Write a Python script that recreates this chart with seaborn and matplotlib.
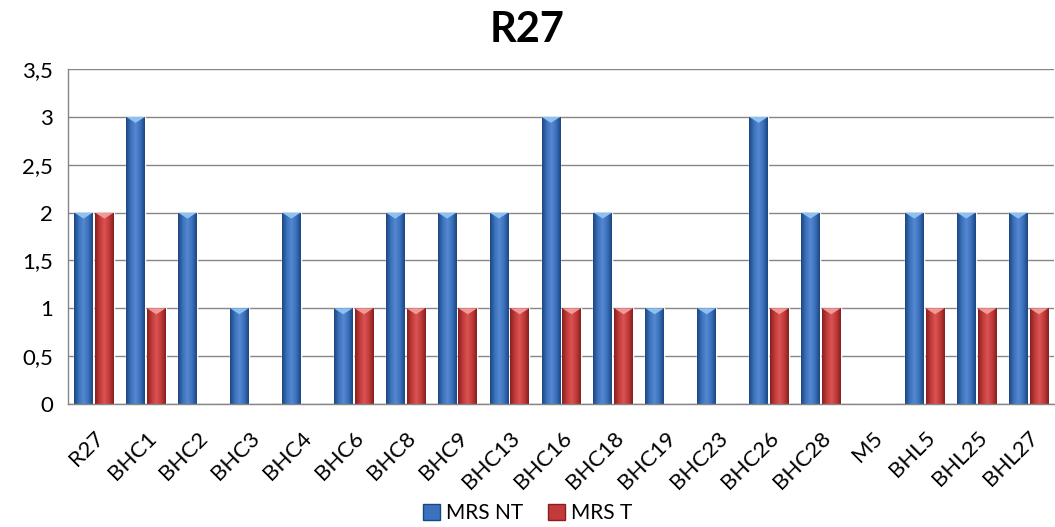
import numpy as np
import pandas as pd
import seaborn as sns
import matplotlib
matplotlib.use("Agg")
import matplotlib.pyplot as plt
import matplotlib.transforms as mtransforms
from matplotlib.colors import LinearSegmentedColormap
from matplotlib.patches import Polygon, Patch

categories = ["R27", "BHC1", "BHC2", "BHC3", "BHC4", "BHC6", "BHC8", "BHC9", "BHC13",
              "BHC16", "BHC18", "BHC19", "BHC23", "BHC26", "BHC28", "M5", "BHL5",
              "BHL25", "BHL27"]
mrs_nt = [2, 3, 2, 1, 2, 1, 2, 2, 2, 3, 2, 1, 1, 3, 2, 0, 2, 2, 2]
mrs_t = [2, 1, 0, 0, 0, 1, 1, 1, 1, 1, 1, 0, 0, 1, 1, 0, 1, 1, 1]
series_names = ["MRS NT", "MRS T"]
y_ticks = [0, 0.5, 1, 1.5, 2, 2.5, 3, 3.5]
y_tick_labels = ["0", "0,5", "1", "1,5", "2", "2,5", "3", "3,5"]

df = pd.DataFrame({
    "cat": categories * 2,
    "value": mrs_nt + mrs_t,
    "series": [series_names[0]] * len(categories) + [series_names[1]] * len(categories),
})

sns.set_style("white")
plt.rcParams["font.family"] = ["Lato", "DejaVu Sans"]
plt.rcParams["text.color"] = "black"
plt.rcParams["xtick.color"] = "black"
plt.rcParams["ytick.color"] = "black"

base = {"MRS NT": "#3b6fb6", "MRS T": "#c0393a"}
shades = {
    "MRS NT": ["#1d4680", "#3a72bd", "#5688cf", "#3a72bd", "#1d4680"],
    "MRS T": ["#862020", "#c23a3a", "#d85452", "#c23a3a", "#862020"],
}
tops = {"MRS NT": "#8ec0f0", "MRS T": "#f09a98"}

fig = plt.figure(figsize=(10.55, 5.27), dpi=100)
ax = fig.add_axes([0.0645, 0.2334, 0.935, 0.6356])

sns.barplot(data=df, x="cat", y="value", hue="series", palette=base,
            width=0.8, gap=0.1, ax=ax, legend=False, saturation=1)

ax.set_ylim(0, 3.5)
ax.set_xlim(-0.5, len(categories) - 0.5)
ax.set_yticks(y_ticks)
ax.set_yticklabels(y_tick_labels, fontsize=16)
ax.set_xlabel("")
ax.set_ylabel("")
ax.set_xticks(range(len(categories)))
ax.set_xticklabels(categories, rotation=45, ha="right", rotation_mode="anchor", fontsize=16)
shift = mtransforms.ScaledTranslation(8 / 100, 0, fig.dpi_scale_trans)
for lbl in ax.get_xticklabels():
    lbl.set_transform(lbl.get_transform() + shift)
ax.tick_params(axis="x", length=0, pad=17)
ax.tick_params(axis="y", length=5, color="#868686", direction="out", pad=6)
ax.yaxis.grid(True, color="#868686", linewidth=1)
ax.set_axisbelow(True)
for side in ["top", "right"]:
    ax.spines[side].set_visible(False)
for side in ["left", "bottom"]:
    ax.spines[side].set_color("#868686")
    ax.spines[side].set_linewidth(1)

# shade each bar with a horizontal cylinder-like gradient and a bevelled top
fig.canvas.draw()
px_per_data = ax.transData.transform((0, 1))[1] - ax.transData.transform((0, 0))[1]
bevel = 6 / px_per_data
n = len(categories)
for i, patch in enumerate(ax.patches[:2 * n]):
    name = series_names[0] if i < n else series_names[1]
    x0, y0 = patch.get_x(), patch.get_y()
    w, h = patch.get_width(), patch.get_height()
    if h <= 0:
        continue
    cmap = LinearSegmentedColormap.from_list("g", shades[name])
    grad = np.linspace(0, 1, 64).reshape(1, -1)
    im = ax.imshow(grad, cmap=cmap, aspect="auto", extent=(x0, x0 + w, y0, y0 + h),
                   zorder=patch.get_zorder() + 0.1, interpolation="bilinear")
    im.set_clip_path(patch)
    tri = Polygon([(x0, y0 + h), (x0 + w, y0 + h), (x0 + w / 2, y0 + h - bevel)],
                  closed=True, facecolor=tops[name], edgecolor="none",
                  zorder=patch.get_zorder() + 0.2)
    ax.add_patch(tri)
ax.set_xlim(-0.5, len(categories) - 0.5)
ax.set_ylim(0, 3.5)

fig.text(0.5, 0.944, "R27", ha="center", va="center", fontsize=30, fontweight="bold")

handles = [Patch(facecolor=shades[s][1], edgecolor=shades[s][0], label=s) for s in series_names]
fig.legend(handles=handles, loc="center", bbox_to_anchor=(0.5, 0.026), ncol=2,
           frameon=False, fontsize=15, handlelength=0.8, handleheight=0.8,
           handletextpad=0.3, columnspacing=1.2)

fig.savefig("out.png", dpi=100)
